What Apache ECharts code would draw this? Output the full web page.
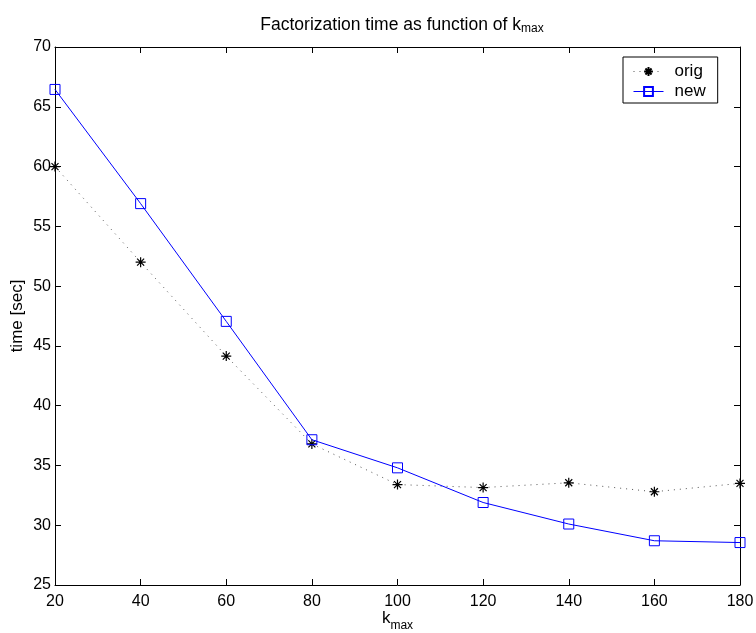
<!DOCTYPE html>
<html>
<head>
<meta charset="utf-8">
<script src="https://cdn.jsdelivr.net/npm/echarts@6/dist/echarts.min.js"></script>
<style>
  html, body { margin: 0; padding: 0; background: #fff; }
  #chart { width: 756px; height: 633px; }
</style>
</head>
<body>
<div id="chart"></div>
<script>
// k_max values on the x axis
var kmax = [20, 40, 60, 80, 100, 120, 140, 160, 180];
// factorization time, seconds
var origTime = [60.0, 52.0, 44.15, 36.8, 33.4, 33.15, 33.55, 32.8, 33.5];
var newTime = [66.45, 56.9, 47.05, 37.15, 34.8, 31.9, 30.1, 28.7, 28.55];

var FONT = 'Liberation Sans, Arial, Helvetica, sans-serif';

function pairs(xs, ys) {
  var out = [];
  for (var i = 0; i < xs.length; i++) out.push([xs[i], ys[i]]);
  return out;
}

// asterisk marker, drawn as strokes
var STAR = 'path://M0,5L10,5M5,0L5,10M1.5,1.5L8.5,8.5M8.5,1.5L1.5,8.5';

var axisLine = { show: true, lineStyle: { color: '#000', width: 1 } };
var tickIn = { show: true, inside: true, length: 6, lineStyle: { color: '#000' } };

var chart = echarts.init(document.getElementById('chart'));
chart.setOption({
  backgroundColor: '#fff',
  animation: false,
  textStyle: { fontFamily: FONT },
  title: {
    text: '{a|Factorization time as function of k}{s|max}',
    left: 397,
    textAlign: 'center',
    top: 10,
    textStyle: {
      fontWeight: 'normal',
      rich: {
        a: { fontFamily: FONT, fontSize: 17.5, fontWeight: 'normal', color: '#000' },
        s: { fontFamily: FONT, fontSize: 12, fontWeight: 'normal', color: '#000', padding: [8, 0, 0, 0] }
      }
    }
  },
  grid: { left: 55, right: 16, top: 47, bottom: 48, containLabel: false, outerBoundsMode: 'none' },
  legend: {
    orient: 'vertical',
    left: 623,
    top: 57,
    padding: [6, 12, 3, 10],
    itemGap: 3,
    itemWidth: 30,
    itemHeight: 11,
    backgroundColor: '#fff',
    borderColor: '#000',
    borderWidth: 1,
    lineStyle: { width: 1 },
    textStyle: { fontFamily: FONT, fontSize: 17, color: '#000', padding: [0, 0, 0, 6] },
    data: ['orig', 'new']
  },
  xAxis: [{
    type: 'value',
    min: 20, max: 180, interval: 20,
    name: '{a|k}{s|max}',
    nameLocation: 'middle',
    nameGap: 20,
    nameMoveOverlap: false,
    nameTextStyle: {
      rich: {
        a: { fontFamily: FONT, fontSize: 17, color: '#000' },
        s: { fontFamily: FONT, fontSize: 12, color: '#000', padding: [15, 0, 0, 0] }
      }
    },
    axisLine: axisLine,
    axisTick: tickIn,
    axisLabel: { fontFamily: FONT, fontSize: 16, color: '#000', margin: 9 },
    splitLine: { show: false }
  }, {
    type: 'value', position: 'top',
    min: 20, max: 180, interval: 20,
    axisLine: axisLine, axisTick: tickIn,
    axisLabel: { show: false }, splitLine: { show: false }
  }],
  yAxis: [{
    type: 'value',
    min: 25, max: 70, interval: 5,
    name: 'time [sec]',
    nameLocation: 'middle',
    nameGap: 29,
    nameMoveOverlap: false,
    nameTextStyle: { fontFamily: FONT, fontSize: 17, color: '#000' },
    axisLine: axisLine,
    axisTick: tickIn,
    axisLabel: { fontFamily: FONT, fontSize: 16, color: '#000', margin: 4 },
    splitLine: { show: false }
  }, {
    type: 'value', position: 'right',
    min: 25, max: 70, interval: 5,
    axisLine: axisLine, axisTick: tickIn,
    axisLabel: { show: false }, splitLine: { show: false }
  }],
  series: [{
    name: 'orig',
    type: 'line',
    data: pairs(kmax, origTime),
    symbol: STAR,
    symbolSize: 10,
    showAllSymbol: true,
    itemStyle: { color: '#000', borderColor: '#000', borderWidth: 1.2 },
    lineStyle: { color: '#555', width: 1, type: [1, 5] },
    z: 2
  }, {
    name: 'new',
    type: 'line',
    data: pairs(kmax, newTime),
    symbol: 'rect',
    symbolSize: 10,
    showAllSymbol: true,
    itemStyle: { color: 'rgba(0,0,0,0)', borderColor: '#0000ff', borderWidth: 1 },
    lineStyle: { color: '#0000ff', width: 1 },
    z: 3
  }]
});
</script>
</body>
</html>
